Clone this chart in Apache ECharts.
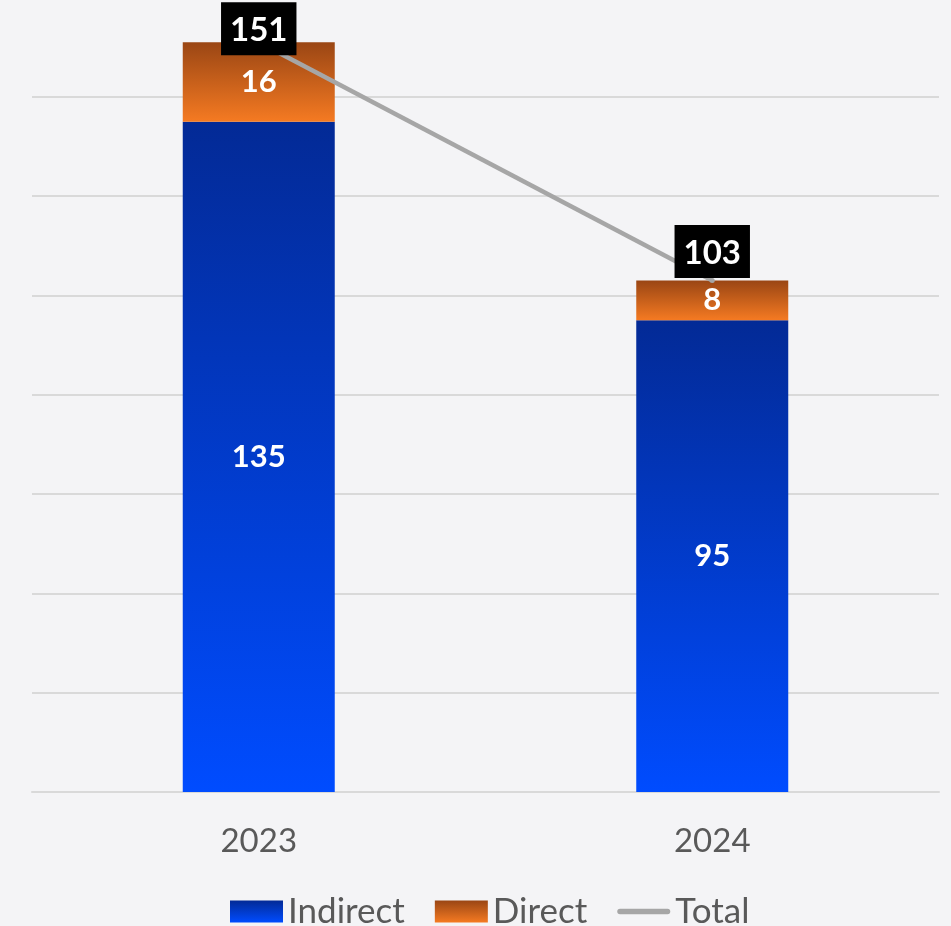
<!DOCTYPE html>
<html>
<head>
<meta charset="utf-8">
<script src="https://cdn.jsdelivr.net/npm/echarts@6/dist/echarts.min.js"></script>
<style>
html,body{margin:0;padding:0;background:#f4f4f6;}
#chart{width:951px;height:926px;}
</style>
</head>
<body>
<div id="chart"></div>
<script>
var categories = ['2023', '2024'];
var indirect = [135, 95];
var direct = [16, 8];
var total = [151, 103];

var FONT = 'Lato';
var chart = echarts.init(document.getElementById('chart'));

function vgrad(top, bottom) {
  return new echarts.graphic.LinearGradient(0, 0, 0, 1, [
    {offset: 0, color: top}, {offset: 1, color: bottom}
  ]);
}

var totalData = total.map(function (v, i) {
  return i === 0 ? {value: v, label: {position: [2.5, -37.5], align: 'center', verticalAlign: 'top'}} : v;
});

chart.setOption({
  backgroundColor: '#f4f4f6',
  textStyle: {fontFamily: FONT},
  grid: {left: 32, right: 12, top: 0, bottom: 134},
  legend: {
    bottom: -8,
    left: 225,
    itemWidth: 53,
    itemHeight: 22,
    itemGap: 30,
    textStyle: {fontFamily: FONT, fontSize: 35, color: '#595959'},
    data: [
      {name: 'Indirect', icon: 'rect'},
      {name: 'Direct', icon: 'rect'},
      {name: 'Total', icon: 'path://M3,0 L54,0 A3,3 0 0 1 54,6 L3,6 A3,3 0 0 1 3,0 Z'}
    ]
  },
  xAxis: {
    type: 'category',
    data: categories,
    axisTick: {show: false},
    axisLine: {lineStyle: {color: '#d9d9d9', width: 2}},
    axisLabel: {color: '#595959', fontSize: 33, fontFamily: FONT, margin: 33}
  },
  yAxis: {
    type: 'value',
    min: 0,
    max: 159.5,
    interval: 20,
    axisLabel: {show: false},
    axisLine: {show: false},
    axisTick: {show: false},
    splitLine: {showMaxLine: false, lineStyle: {color: '#d9d9d9', width: 2}}
  },
  series: [
    {
      name: 'Indirect',
      type: 'bar',
      stack: 'a',
      barWidth: 152,
      data: indirect,
      itemStyle: {color: vgrad('#032a96', '#004cff')},
      label: {show: true, position: 'inside', color: '#fff', fontWeight: 'bold', fontSize: 31, fontFamily: FONT}
    },
    {
      name: 'Direct',
      type: 'bar',
      stack: 'a',
      barWidth: 152,
      data: direct,
      itemStyle: {color: vgrad('#9a4614', '#f57a22')},
      label: {show: true, position: 'inside', color: '#fff', fontWeight: 'bold', fontSize: 31, fontFamily: FONT}
    },
    {
      name: 'Total',
      type: 'line',
      data: totalData,
      zlevel: 1,
      z: 10,
      symbol: 'circle',
      symbolSize: 5,
      itemStyle: {color: '#a6a6a6'},
      lineStyle: {color: '#a6a6a6', width: 4.5},
      label: {
        show: true,
        position: 'top',
        distance: 0,
        color: '#fff',
        backgroundColor: '#000',
        fontWeight: 'bold',
        fontSize: 33,
        fontFamily: FONT,
        lineHeight: 34,
        padding: [11, 9, 8, 9]
      }
    }
  ]
});
</script>
</body>
</html>
